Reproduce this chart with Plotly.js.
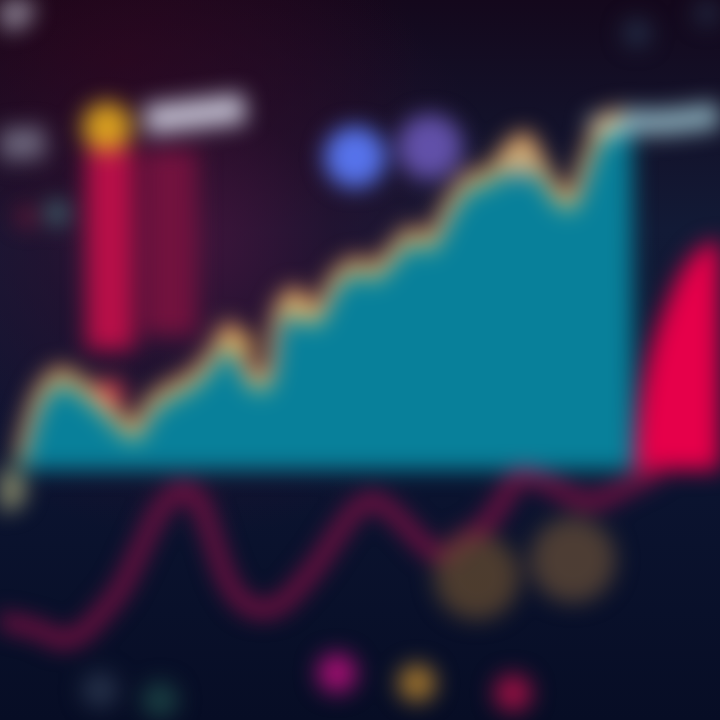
<!DOCTYPE html>
<html>
<head>
<meta charset="utf-8">
<script src="https://cdn.plot.ly/plotly-3.0.1.min.js"></script>
<style>
  html, body { margin:0; padding:0; width:720px; height:720px; overflow:hidden; }
  body {
    background:
      radial-gradient(ellipse 320px 300px at 190px 240px, rgba(70,20,60,0.85) 0%, rgba(45,14,45,0.55) 45%, rgba(0,0,0,0) 100%),
      radial-gradient(ellipse 300px 200px at 120px 60px, rgba(40,4,24,0.9) 0%, rgba(0,0,0,0) 100%),
      linear-gradient(to bottom, #14081c 0%, #121a36 32%, #0c1532 60%, #070d25 100%);
  }
  #chart { position:absolute; left:0; top:0; width:720px; height:720px; filter: blur(11px); }
</style>
</head>
<body>
<div id="chart"></div>
<script>
// ---- data (x position along time axis, value on 0-720 scale) ----
const tealX = [20,40,60,80,100,120,135,150,170,190,210,230,250,265,280,295,315,335,355,375,395,410,430,450,470,490,510,525,540,555,570,585,600,620,632,634];
const tealY = [250,315,335,325,310,290,280,305,320,330,350,380,335,330,400,415,395,430,445,440,460,475,470,505,530,535,560,570,545,520,510,545,580,595,595,250];
const baseX = [20,634];
const baseY = [250,250];

const redAreaX = [634,638,645,655,668,682,698,712,720];
const redAreaY = [250,300,345,385,420,450,470,478,480];
const redBaseX = [634,720];
const redBaseY = [250,250];

const lineX = [0,20,40,60,80,100,120,140,160,180,195,210,225,240,260,280,300,320,340,360,375,390,410,430,445,460,480,500,520,540,560,580,600,620,640,660];
const lineY = [100,95,90,80,85,105,130,170,210,230,225,190,145,120,110,115,135,160,190,215,220,210,190,170,165,180,190,215,245,240,230,220,220,230,240,250];

const barX = [110,170];
const barBase = [370,385];
const barH = [203,185];

const capX = [590,625,660,720];
const capY = [590,598,598,605];

const labelX = [145,245];
const labelY = [600,612];
const label2X = [0,45];
const label2Y = [575,578];

const blobX = [107,355,430,57,27,637,707,337,417,513,477,573,100,160,5,110,520,300,240,12];
const blobY = [593,563,573,507,503,687,707,47,37,27,143,160,30,20,230,327,560,410,375,712];
const blobS = [50,62,66,24,20,28,26,40,38,38,86,86,36,36,42,30,38,26,28,44];
const blobC = ['#e0a520','#5a78f5','#7460c8','#4a7c80','#8a2040','#2a3a55','#2a3a55','#b01078','#c08a30','#b01048','#6a4e30','#6a5038','#2c3850','#1e4a48','#a8a878','#e04050','#f0b080','#f0b868','#f0c050','#d0d0e0'];
const blobO = [0.95,0.95,0.8,0.8,0.7,0.7,0.6,0.9,0.8,0.85,0.7,0.7,0.8,0.8,0.8,0.85,0.75,0.75,0.75,0.6];

const traces = [
  {x: baseX, y: baseY, mode:'lines', line:{width:0, color:'rgba(0,0,0,0)'}, hoverinfo:'skip'},
  {x: tealX, y: tealY, mode:'lines', fill:'tonexty', fillcolor:'#08809a', line:{width:0, color:'#08809a'}},
  {x: redBaseX, y: redBaseY, mode:'lines', line:{width:0, color:'rgba(0,0,0,0)'}},
  {x: redAreaX, y: redAreaY, mode:'lines', fill:'tonexty', fillcolor:'#e6004a', line:{width:0, color:'#e6004a', shape:'spline'}},
  // glow along the teal edge (same data drawn on shifted axes)
  {x: tealX.slice(0,-2), y: tealY.slice(0,-2), yaxis:'y3', mode:'lines', line:{width:10, color:'rgba(240,160,100,0.85)', shape:'spline'}},
  {x: tealX.slice(0,-2), y: tealY.slice(0,-2), yaxis:'y2', mode:'lines', line:{width:9, color:'rgba(210,200,110,0.8)', shape:'spline'}},
  {x: tealX.slice(0,-2), y: tealY.slice(0,-2), mode:'lines', line:{width:7, color:'rgba(90,190,160,0.8)', shape:'spline'}},
  {x: lineX, y: lineY, mode:'lines', line:{width:14, color:'#8a1046', shape:'spline'}},
  {x: barX, y: barH, base: barBase, type:'bar', width:[48,54], marker:{color:['#b80f48','#72123e']}},
  {x: capX, y: capY, mode:'lines', line:{width:26, color:'rgba(170,215,225,0.75)', shape:'spline'}},
  {x: labelX, y: labelY, mode:'lines', line:{width:30, color:'rgba(215,215,232,0.85)'}},
  {x: label2X, y: label2Y, mode:'lines', line:{width:32, color:'rgba(140,140,160,0.7)'}},
  {x: blobX, y: blobY, mode:'markers', marker:{size:blobS, color:blobC, opacity:blobO, line:{width:0}}}
];

const ax = {range:[0,720], visible:false, showgrid:false, zeroline:false, fixedrange:true};
const layout = {
  width:720, height:720,
  margin:{l:0,r:0,t:0,b:0,pad:0},
  paper_bgcolor:'rgba(0,0,0,0)', plot_bgcolor:'rgba(0,0,0,0)',
  showlegend:false,
  bargap:0,
  xaxis: Object.assign({}, ax),
  yaxis: Object.assign({}, ax),
  yaxis2: Object.assign({}, ax, {range:[-7,713], overlaying:'y'}),
  yaxis3: Object.assign({}, ax, {range:[-14,706], overlaying:'y'})
};
Plotly.newPlot('chart', traces, layout, {staticPlot:true, displayModeBar:false});
</script>
</body>
</html>
